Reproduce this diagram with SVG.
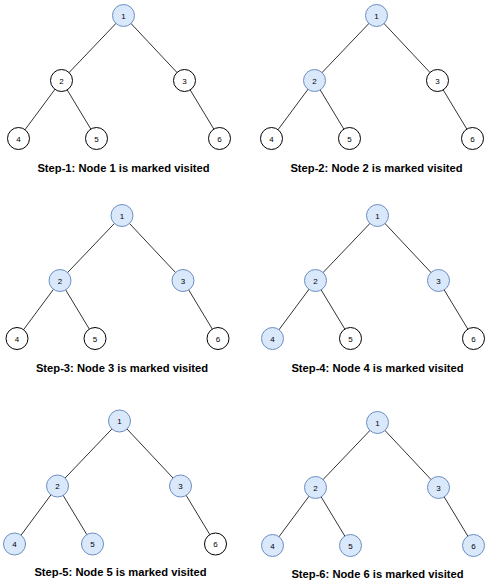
<svg xmlns="http://www.w3.org/2000/svg" width="490" height="587" viewBox="0 0 490 587">
<style>
.e{stroke:#333;stroke-width:1;fill:none}
.u{fill:#fff;stroke:#000;stroke-width:1}
.v{fill:#dae8fc;stroke:#6c8ebf;stroke-width:1}
.l{font-family:"Liberation Sans",Arial,Helvetica,sans-serif;font-size:8px;fill:#000;text-anchor:middle}
.t{font-family:"Liberation Sans",Arial,Helvetica,sans-serif;font-size:11.2px;font-weight:bold;fill:#000;text-anchor:middle}
</style>
<rect width="490" height="587" fill="#fff"/>
<defs>
<g id="edges">
<line class="e" x1="0" y1="0" x2="-62" y2="65"/>
<line class="e" x1="0" y1="0" x2="61" y2="65"/>
<line class="e" x1="-62" y1="65" x2="-105" y2="123"/>
<line class="e" x1="-62" y1="65" x2="-27" y2="123"/>
<line class="e" x1="61" y1="65" x2="96" y2="123"/>
</g>
</defs>
<!-- Panel 1 -->
<g id="step1" transform="translate(123.5,15.5)">
<g id="s1-connectors"><use href="#edges"/></g>
<g id="s1-n1"><circle class="v" cx="0" cy="0" r="11"/><text class="l" x="0" y="3">1</text></g>
<g id="s1-n2"><circle class="u" cx="-62" cy="65" r="11"/><text class="l" x="-62" y="68">2</text></g>
<g id="s1-n3"><circle class="u" cx="61" cy="65" r="11"/><text class="l" x="61" y="68">3</text></g>
<g id="s1-n4"><circle class="u" cx="-105" cy="123" r="11"/><text class="l" x="-105" y="126">4</text></g>
<g id="s1-n5"><circle class="u" cx="-27" cy="123" r="11"/><text class="l" x="-27" y="126">5</text></g>
<g id="s1-n6"><circle class="u" cx="96" cy="123" r="11"/><text class="l" x="96" y="126">6</text></g>
<text class="t" x="0" y="156">Step-1: Node 1 is marked visited</text>
</g>
<!-- Panel 2 -->
<g id="step2" transform="translate(376.5,15.5)">
<g id="s2-connectors"><use href="#edges"/></g>
<g id="s2-n1"><circle class="v" cx="0" cy="0" r="11"/><text class="l" x="0" y="3">1</text></g>
<g id="s2-n2"><circle class="v" cx="-62" cy="65" r="11"/><text class="l" x="-62" y="68">2</text></g>
<g id="s2-n3"><circle class="u" cx="61" cy="65" r="11"/><text class="l" x="61" y="68">3</text></g>
<g id="s2-n4"><circle class="u" cx="-105" cy="123" r="11"/><text class="l" x="-105" y="126">4</text></g>
<g id="s2-n5"><circle class="u" cx="-27" cy="123" r="11"/><text class="l" x="-27" y="126">5</text></g>
<g id="s2-n6"><circle class="u" cx="96" cy="123" r="11"/><text class="l" x="96" y="126">6</text></g>
<text class="t" x="0" y="156">Step-2: Node 2 is marked visited</text>
</g>
<!-- Panel 3 -->
<g id="step3" transform="translate(122,215.5)">
<g id="s3-connectors"><use href="#edges"/></g>
<g id="s3-n1"><circle class="v" cx="0" cy="0" r="11"/><text class="l" x="0" y="3">1</text></g>
<g id="s3-n2"><circle class="v" cx="-62" cy="65" r="11"/><text class="l" x="-62" y="68">2</text></g>
<g id="s3-n3"><circle class="v" cx="61" cy="65" r="11"/><text class="l" x="61" y="68">3</text></g>
<g id="s3-n4"><circle class="u" cx="-105" cy="123" r="11"/><text class="l" x="-105" y="126">4</text></g>
<g id="s3-n5"><circle class="u" cx="-27" cy="123" r="11"/><text class="l" x="-27" y="126">5</text></g>
<g id="s3-n6"><circle class="u" cx="96" cy="123" r="11"/><text class="l" x="96" y="126">6</text></g>
<text class="t" x="0" y="156">Step-3: Node 3 is marked visited</text>
</g>
<!-- Panel 4 -->
<g id="step4" transform="translate(377.5,215.5)">
<g id="s4-connectors"><use href="#edges"/></g>
<g id="s4-n1"><circle class="v" cx="0" cy="0" r="11"/><text class="l" x="0" y="3">1</text></g>
<g id="s4-n2"><circle class="v" cx="-62" cy="65" r="11"/><text class="l" x="-62" y="68">2</text></g>
<g id="s4-n3"><circle class="v" cx="61" cy="65" r="11"/><text class="l" x="61" y="68">3</text></g>
<g id="s4-n4"><circle class="v" cx="-105" cy="123" r="11"/><text class="l" x="-105" y="126">4</text></g>
<g id="s4-n5"><circle class="u" cx="-27" cy="123" r="11"/><text class="l" x="-27" y="126">5</text></g>
<g id="s4-n6"><circle class="u" cx="96" cy="123" r="11"/><text class="l" x="96" y="126">6</text></g>
<text class="t" x="0" y="156">Step-4: Node 4 is marked visited</text>
</g>
<!-- Panel 5 -->
<g id="step5" transform="translate(119.5,421)">
<g id="s5-connectors"><use href="#edges"/></g>
<g id="s5-n1"><circle class="v" cx="0" cy="0" r="11"/><text class="l" x="0" y="3">1</text></g>
<g id="s5-n2"><circle class="v" cx="-62" cy="65" r="11"/><text class="l" x="-62" y="68">2</text></g>
<g id="s5-n3"><circle class="v" cx="61" cy="65" r="11"/><text class="l" x="61" y="68">3</text></g>
<g id="s5-n4"><circle class="v" cx="-105" cy="123" r="11"/><text class="l" x="-105" y="126">4</text></g>
<g id="s5-n5"><circle class="v" cx="-27" cy="123" r="11"/><text class="l" x="-27" y="126">5</text></g>
<g id="s5-n6"><circle class="u" cx="96" cy="123" r="11"/><text class="l" x="96" y="126">6</text></g>
<text class="t" x="1" y="155">Step-5: Node 5 is marked visited</text>
</g>
<!-- Panel 6 -->
<g id="step6" transform="translate(377.5,422.5)">
<g id="s6-connectors"><use href="#edges"/></g>
<g id="s6-n1"><circle class="v" cx="0" cy="0" r="11"/><text class="l" x="0" y="3">1</text></g>
<g id="s6-n2"><circle class="v" cx="-62" cy="65" r="11"/><text class="l" x="-62" y="68">2</text></g>
<g id="s6-n3"><circle class="v" cx="61" cy="65" r="11"/><text class="l" x="61" y="68">3</text></g>
<g id="s6-n4"><circle class="v" cx="-105" cy="123" r="11"/><text class="l" x="-105" y="126">4</text></g>
<g id="s6-n5"><circle class="v" cx="-27" cy="123" r="11"/><text class="l" x="-27" y="126">5</text></g>
<g id="s6-n6"><circle class="v" cx="96" cy="123" r="11"/><text class="l" x="96" y="126">6</text></g>
<text class="t" x="0" y="155">Step-6: Node 6 is marked visited</text>
</g>
</svg>
